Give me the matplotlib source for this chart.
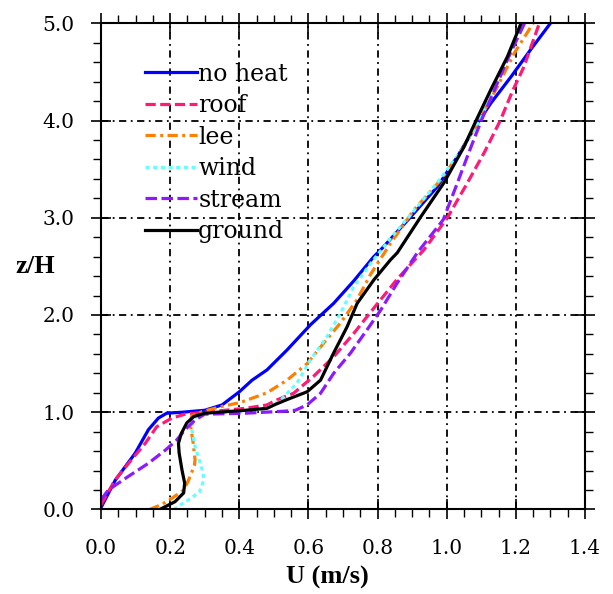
import matplotlib
matplotlib.use("Agg")
import matplotlib.pyplot as plt

plt.rcParams["font.family"] = ["DejaVu Serif"]

# velocity profiles (U in m/s, height z/H)
u_noheat = [0.0, 0.041, 0.099, 0.137, 0.166, 0.19, 0.234, 0.30, 0.35, 0.40, 0.437, 0.48, 0.538, 0.606,
            0.673, 0.731, 0.789, 0.809, 0.896, 0.973, 1.031, 1.085, 1.128, 1.186, 1.243, 1.30]
z_noheat = [0.02, 0.30, 0.58, 0.82, 0.94, 0.99, 1.00, 1.02, 1.075, 1.21, 1.33, 1.435, 1.64, 1.90,
            2.12, 2.35, 2.60, 2.67, 3.01, 3.32, 3.63, 3.95, 4.18, 4.45, 4.73, 5.0]

u_roof = [0.0, 0.04, 0.09, 0.128, 0.161, 0.205, 0.243, 0.30, 0.417, 0.48, 0.504, 0.557, 0.615, 0.673,
          0.731, 0.789, 0.857, 0.934, 1.002, 1.06, 1.11, 1.155, 1.19, 1.223, 1.268]
z_roof = [0.05, 0.30, 0.52, 0.68, 0.85, 0.94, 0.98, 1.00, 1.04, 1.075, 1.12, 1.195, 1.37, 1.57,
          1.81, 2.07, 2.37, 2.67, 3.0, 3.36, 3.68, 4.0, 4.3, 4.55, 5.0]

u_lee = [0.14, 0.175, 0.205, 0.239, 0.253, 0.27, 0.272, 0.266, 0.258, 0.262, 0.292, 0.35, 0.403, 0.48,
         0.538, 0.596, 0.644, 0.693, 0.741, 0.78, 0.838, 0.905, 0.983, 1.05, 1.089, 1.099, 1.147, 1.195, 1.25]
z_lee = [0.0, 0.05, 0.115, 0.20, 0.30, 0.45, 0.51, 0.70, 0.88, 0.96, 1.006, 1.06, 1.10, 1.20,
         1.33, 1.50, 1.71, 1.92, 2.16, 2.42, 2.74, 3.08, 3.39, 3.73, 3.97, 4.04, 4.35, 4.69, 5.0]

u_wind = [0.21, 0.253, 0.285, 0.297, 0.295, 0.287, 0.272, 0.263, 0.268, 0.30, 0.417, 0.48, 0.519, 0.567,
          0.606, 0.654, 0.693, 0.731, 0.78, 0.84, 0.90, 0.97, 1.04, 1.09, 1.16, 1.215]
z_wind = [0.0, 0.10, 0.18, 0.30, 0.38, 0.475, 0.65, 0.82, 0.94, 0.995, 1.006, 1.04, 1.12, 1.30,
          1.54, 1.78, 2.02, 2.29, 2.53, 2.80, 3.05, 3.35, 3.68, 3.97, 4.5, 5.0]

u_stream = [0.0, 0.021, 0.079, 0.137, 0.186, 0.219, 0.243, 0.272, 0.30, 0.417, 0.528, 0.562, 0.596, 0.635,
            0.673, 0.722, 0.77, 0.809, 0.857, 0.915, 0.99, 1.03, 1.065, 1.10, 1.14, 1.18, 1.225]
z_stream = [0.10, 0.20, 0.34, 0.475, 0.61, 0.715, 0.82, 0.92, 0.98, 0.99, 1.01, 1.02, 1.075, 1.195,
            1.40, 1.61, 1.85, 2.05, 2.33, 2.64, 2.98, 3.35, 3.68, 4.0, 4.33, 4.66, 5.0]

u_ground = [0.17, 0.214, 0.239, 0.242, 0.234, 0.226, 0.224, 0.232, 0.248, 0.268, 0.30, 0.417, 0.48, 0.504,
            0.538, 0.596, 0.635, 0.673, 0.712, 0.741, 0.789, 0.838, 0.857, 0.925, 0.992, 1.05, 1.085,
            1.128, 1.176, 1.215]
z_ground = [0.0, 0.08, 0.17, 0.27, 0.41, 0.58, 0.68, 0.78, 0.89, 0.955, 0.99, 1.02, 1.04, 1.08,
            1.13, 1.21, 1.33, 1.61, 1.88, 2.12, 2.36, 2.57, 2.64, 3.01, 3.36, 3.73, 4.0,
            4.32, 4.66, 5.0]

labels = ["no heat", "roof", "lee", "wind", "stream", "ground"]
x_ticks = [0.0, 0.2, 0.4, 0.6, 0.8, 1.0, 1.2, 1.4]
y_ticks = [0.0, 1.0, 2.0, 3.0, 4.0, 5.0]

fig = plt.figure(figsize=(6.13, 5.94), dpi=100)
ax = fig.add_axes([0.1648, 0.1423, 0.7895, 0.8185])

lw = 2.3
ax.plot(u_noheat, z_noheat, color="#0000ff", lw=lw, label=labels[0])
ax.plot(u_roof, z_roof, color="#ff1a75", lw=lw, dashes=(3.2, 1.4), label=labels[1])
ax.plot(u_lee, z_lee, color="#ff8000", lw=lw, dashes=(3.2, 1.4, 0.9, 1.4), label=labels[2])
ax.plot(u_wind, z_wind, color="#66ffff", lw=lw, dashes=(1.3, 1.1), label=labels[3])
ax.plot(u_stream, z_stream, color="#8c1aff", lw=lw, dashes=(3.6, 1.4), label=labels[4])
ax.plot(u_ground, z_ground, color="black", lw=lw, label=labels[5])

ax.set_xlim(0, 1.4)
ax.set_ylim(0, 5.0)
ax.set_xticks(x_ticks)
ax.set_xticklabels(["%.1f" % v for v in x_ticks])
ax.set_yticks(y_ticks)
ax.set_yticklabels(["%.1f" % v for v in y_ticks])
ax.set_xticks([i * 0.05 for i in range(29)], minor=True)
ax.set_yticks([i * 0.2 for i in range(26)], minor=True)

# dash-dot grid
ax.grid(True, which="major", color="black", lw=1.3, linestyle=(0, (4, 2.5, 1, 2.5)))

ax.tick_params(axis="x", which="major", direction="inout", length=14, width=1.2,
               top=True, labelsize=14.5, pad=14)
ax.tick_params(axis="y", which="major", direction="inout", length=14, width=1.2,
               right=True, labelsize=14.5, pad=12)
ax.tick_params(which="minor", direction="out", length=6, width=1.0, top=True, right=True)
for s in ax.spines.values():
    s.set_linewidth(1.5)

ax.set_xlabel("U (m/s)", family="Liberation Serif", fontweight="bold", fontsize=19)
ax.xaxis.set_label_coords(0.467, -0.139)
ax.xaxis.label.set_verticalalignment("center")
ax.set_ylabel("z/H", family="Liberation Serif", fontweight="bold", fontsize=19,
              rotation=0, ha="center", va="center")
ax.yaxis.set_label_coords(-0.136, 0.499)

ax.legend(loc="upper left", bbox_to_anchor=(0.091, 0.919), frameon=False,
          prop={"family": "DejaVu Serif", "size": 17}, handlelength=2.2,
          handletextpad=0.05, labelspacing=0.36, borderpad=0, borderaxespad=0)

plt.savefig("out.png", dpi=100)
